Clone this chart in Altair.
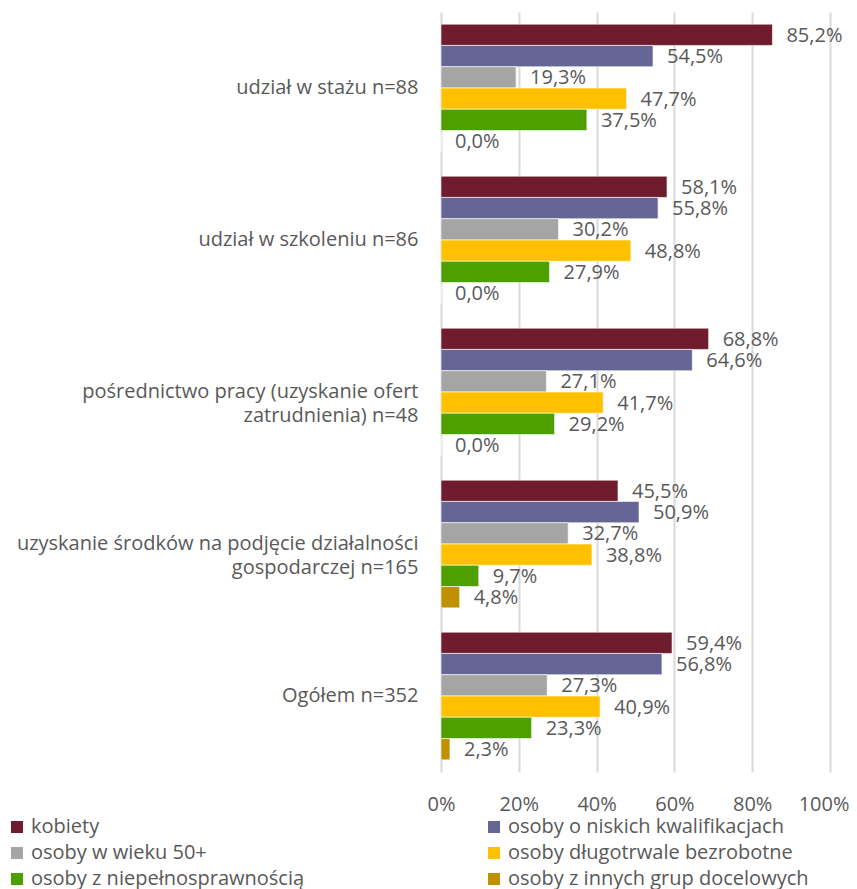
import altair as alt
import pandas as pd

categories = [
    "udział w stażu n=88",
    "udział w szkoleniu n=86",
    "pośrednictwo pracy (uzyskanie ofert zatrudnienia) n=48",
    "uzyskanie środków na podjęcie działalności gospodarczej n=165",
    "Ogółem n=352",
]
series = [
    "kobiety",
    "osoby o niskich kwalifikacjach",
    "osoby w wieku 50+",
    "osoby długotrwale bezrobotne",
    "osoby z niepełnosprawnością",
    "osoby z innych grup docelowych",
]
colors = ["#6E1C2E", "#656596", "#A5A5A5", "#FFC000", "#4E9F00", "#BF9000"]

kobiety = [85.2, 58.1, 68.8, 45.5, 59.4]
niskie = [54.5, 55.8, 64.6, 50.9, 56.8]
wiek50 = [19.3, 30.2, 27.1, 32.7, 27.3]
dlugo = [47.7, 48.8, 41.7, 38.8, 40.9]
niepel = [37.5, 27.9, 29.2, 9.7, 23.3]
inne = [0.0, 0.0, 0.0, 4.8, 2.3]

values = [kobiety, niskie, wiek50, dlugo, niepel, inne]
rows = []
for s, vals in zip(series, values):
    for c, v in zip(categories, vals):
        rows.append({"cat": c, "series": s, "value": v})
df = pd.DataFrame(rows)

# legend is filled column by column: reorder so that it reads row by row
legend_order = [0, 2, 4, 1, 3, 5]
legend_domain = [series[i] for i in legend_order]
legend_range = [colors[i] for i in legend_order]

label_expr = (
    "datum.value == 'pośrednictwo pracy (uzyskanie ofert zatrudnienia) n=48' ? "
    "['pośrednictwo pracy (uzyskanie ofert', 'zatrudnienia) n=48'] : "
    "datum.value == 'uzyskanie środków na podjęcie działalności gospodarczej n=165' ? "
    "['uzyskanie środków na podjęcie działalności', 'gospodarczej n=165'] : datum.value"
)

FONT = "Open Sans"
GREY = "#595959"
FS = 20

y_enc = alt.Y(
    "cat:N",
    sort=categories,
    scale=alt.Scale(paddingInner=0.16, paddingOuter=0.08),
    axis=alt.Axis(
        title=None, ticks=False, domain=False, labelExpr=label_expr,
        labelFontSize=FS, labelColor=GREY, labelFont=FONT, labelPadding=23,
        labelLineHeight=24, labelLimit=450,
    ),
)
yoff = alt.YOffset("series:N", sort=series, scale=alt.Scale(paddingInner=0, paddingOuter=0))

base = alt.Chart(df)

bars = base.mark_bar(stroke="white", strokeWidth=0.6).encode(
    x=alt.X(
        "value:Q",
        scale=alt.Scale(domain=[0, 100]),
        axis=alt.Axis(
            title=None, values=[0, 20, 40, 60, 80, 100], labelExpr="datum.value + '%'",
            ticks=False, domain=False, grid=True, gridColor="#D9D9D9", gridWidth=2,
            labelFontSize=FS, labelColor=GREY, labelFont=FONT, labelPadding=22,
            labelAlign=alt.condition("datum.value == 100", alt.value("right"), alt.value("center")),
            labelOffset=alt.condition("datum.value == 100", alt.value(19), alt.value(0)),
        ),
    ),
    y=y_enc,
    yOffset=yoff,
    color=alt.Color(
        "series:N",
        scale=alt.Scale(domain=legend_domain, range=legend_range),
        legend=alt.Legend(
            title=None, orient="none", legendX=-434, legendY=805, columns=2,
            columnPadding=179, rowPadding=6, symbolType="square", symbolSize=144,
            symbolStrokeWidth=0, labelFontSize=FS, labelColor=GREY, labelFont=FONT,
            labelLimit=400, symbolOffset=0, labelOffset=4,
        ),
    ),
)

texts = base.transform_calculate(
    lbl="replace(format(datum.value, '.1f'), '.', ',') + '%'"
).mark_text(align="left", baseline="middle", dx=14, dy=1, fontSize=FS, font=FONT, color=GREY).encode(
    x="value:Q",
    y=alt.Y("cat:N", sort=categories),
    yOffset=yoff,
    text="lbl:N",
)

chart = (
    alt.layer(bars, texts)
    .properties(
        width=389, height=760,
        padding={"left": 433, "top": 4, "right": 19, "bottom": 117},
        autosize=alt.AutoSizeParams(type="none"),
    )
    .configure_view(stroke=None)
)

chart.save("out.html", embed_options={"renderer": "svg", "actions": False})
